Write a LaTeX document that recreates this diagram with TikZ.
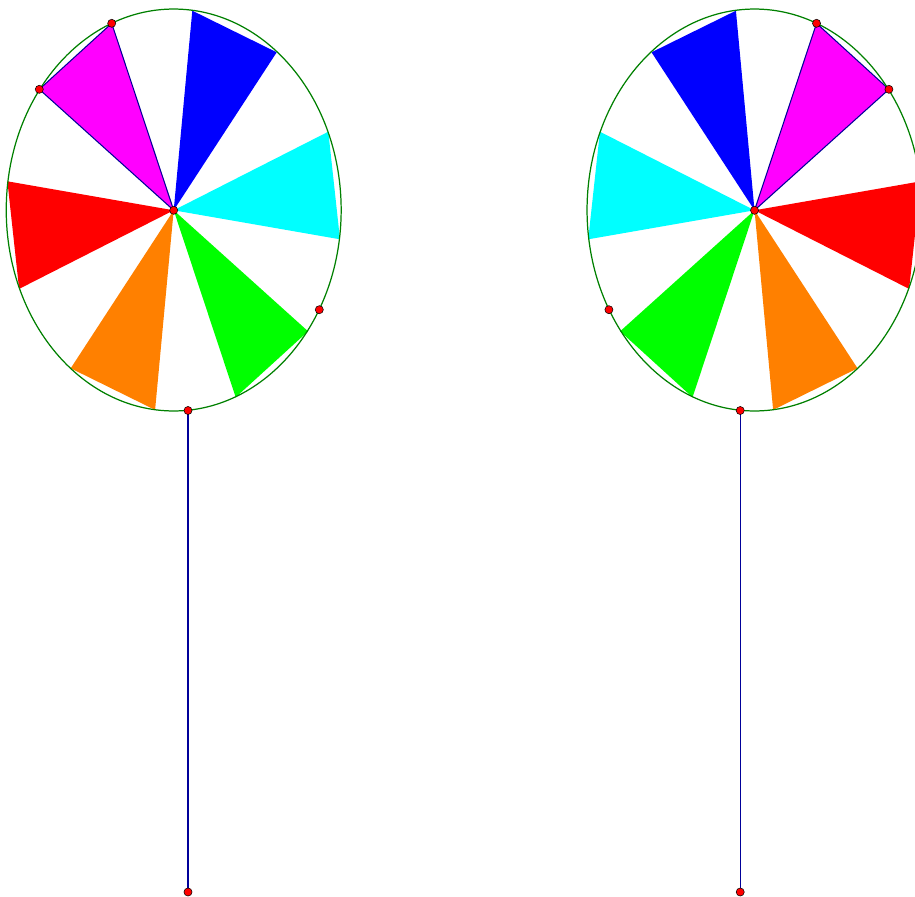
\documentclass[tikz,border=0pt]{standalone}
\definecolor{rimgreen}{RGB}{0,128,0}
\definecolor{stickblue}{RGB}{0,0,153}
\definecolor{wingorange}{RGB}{255,128,0}
\definecolor{wingmagenta}{RGB}{255,0,255}
\definecolor{wingcyan}{RGB}{0,255,255}
\definecolor{winggreen}{RGB}{0,255,0}
\definecolor{wingblue}{RGB}{0,0,255}
\definecolor{wingred}{RGB}{255,0,0}
\tikzset{
  dot/.style={circle,fill=wingred,draw=black,line width=0.3pt,inner sep=0pt,minimum size=4.6pt},
  rim/.style={draw=rimgreen,line width=0.7pt},
  stick/.style={draw=stickblue,line width=0.8pt},
}
\begin{document}
\begin{tikzpicture}[x=0.02cm,y=-0.02cm]
\useasboundingbox (0,0) rectangle (915,896);
\clip (0,0) rectangle (915,896);
% left wheel, then its mirror image
\foreach \sx/\dir in {0/1,18.568/-1}{
\begin{scope}[xshift=\sx cm,xscale=\dir]
\coordinate (hub) at (173.7,210.3);
\coordinate (m1) at (111.7,23.3);
\coordinate (m2) at (39.3,89.3);
\coordinate (top) at (188,410.5);
\coordinate (bot) at (188,892);
\coordinate (side) at (319.3,309.7);
% wings
\fill[wingblue] (hub) -- (192.3,10.7) -- (276.7,52.3) -- cycle;
\fill[wingcyan] (hub) -- (328.3,131.7) -- (340,239.3) -- cycle;
\fill[winggreen] (hub) -- (308.1,331.3) -- (235.7,397.3) -- cycle;
\fill[wingorange] (hub) -- (155.1,409.9) -- (70.7,368.3) -- cycle;
\fill[wingred] (hub) -- (19.1,288.9) -- (7.4,181.3) -- cycle;
\filldraw[fill=wingmagenta,draw=stickblue,line width=0.6pt] (hub) -- (m1) -- (m2) -- cycle;
\draw[rim] (173.7,210) ellipse [x radius=3.35cm,y radius=4.02cm];
\draw[stick] (top) -- (bot);
\node[dot] (hubdot) at (hub) {};
\node[dot] (m1dot) at (m1) {};
\node[dot] (m2dot) at (m2) {};
\node[dot] (sidedot) at (side) {};
\node[dot] (topdot) at (top) {};
\node[dot] (botdot) at (bot) {};
\end{scope}
}
\end{tikzpicture}
\end{document}
